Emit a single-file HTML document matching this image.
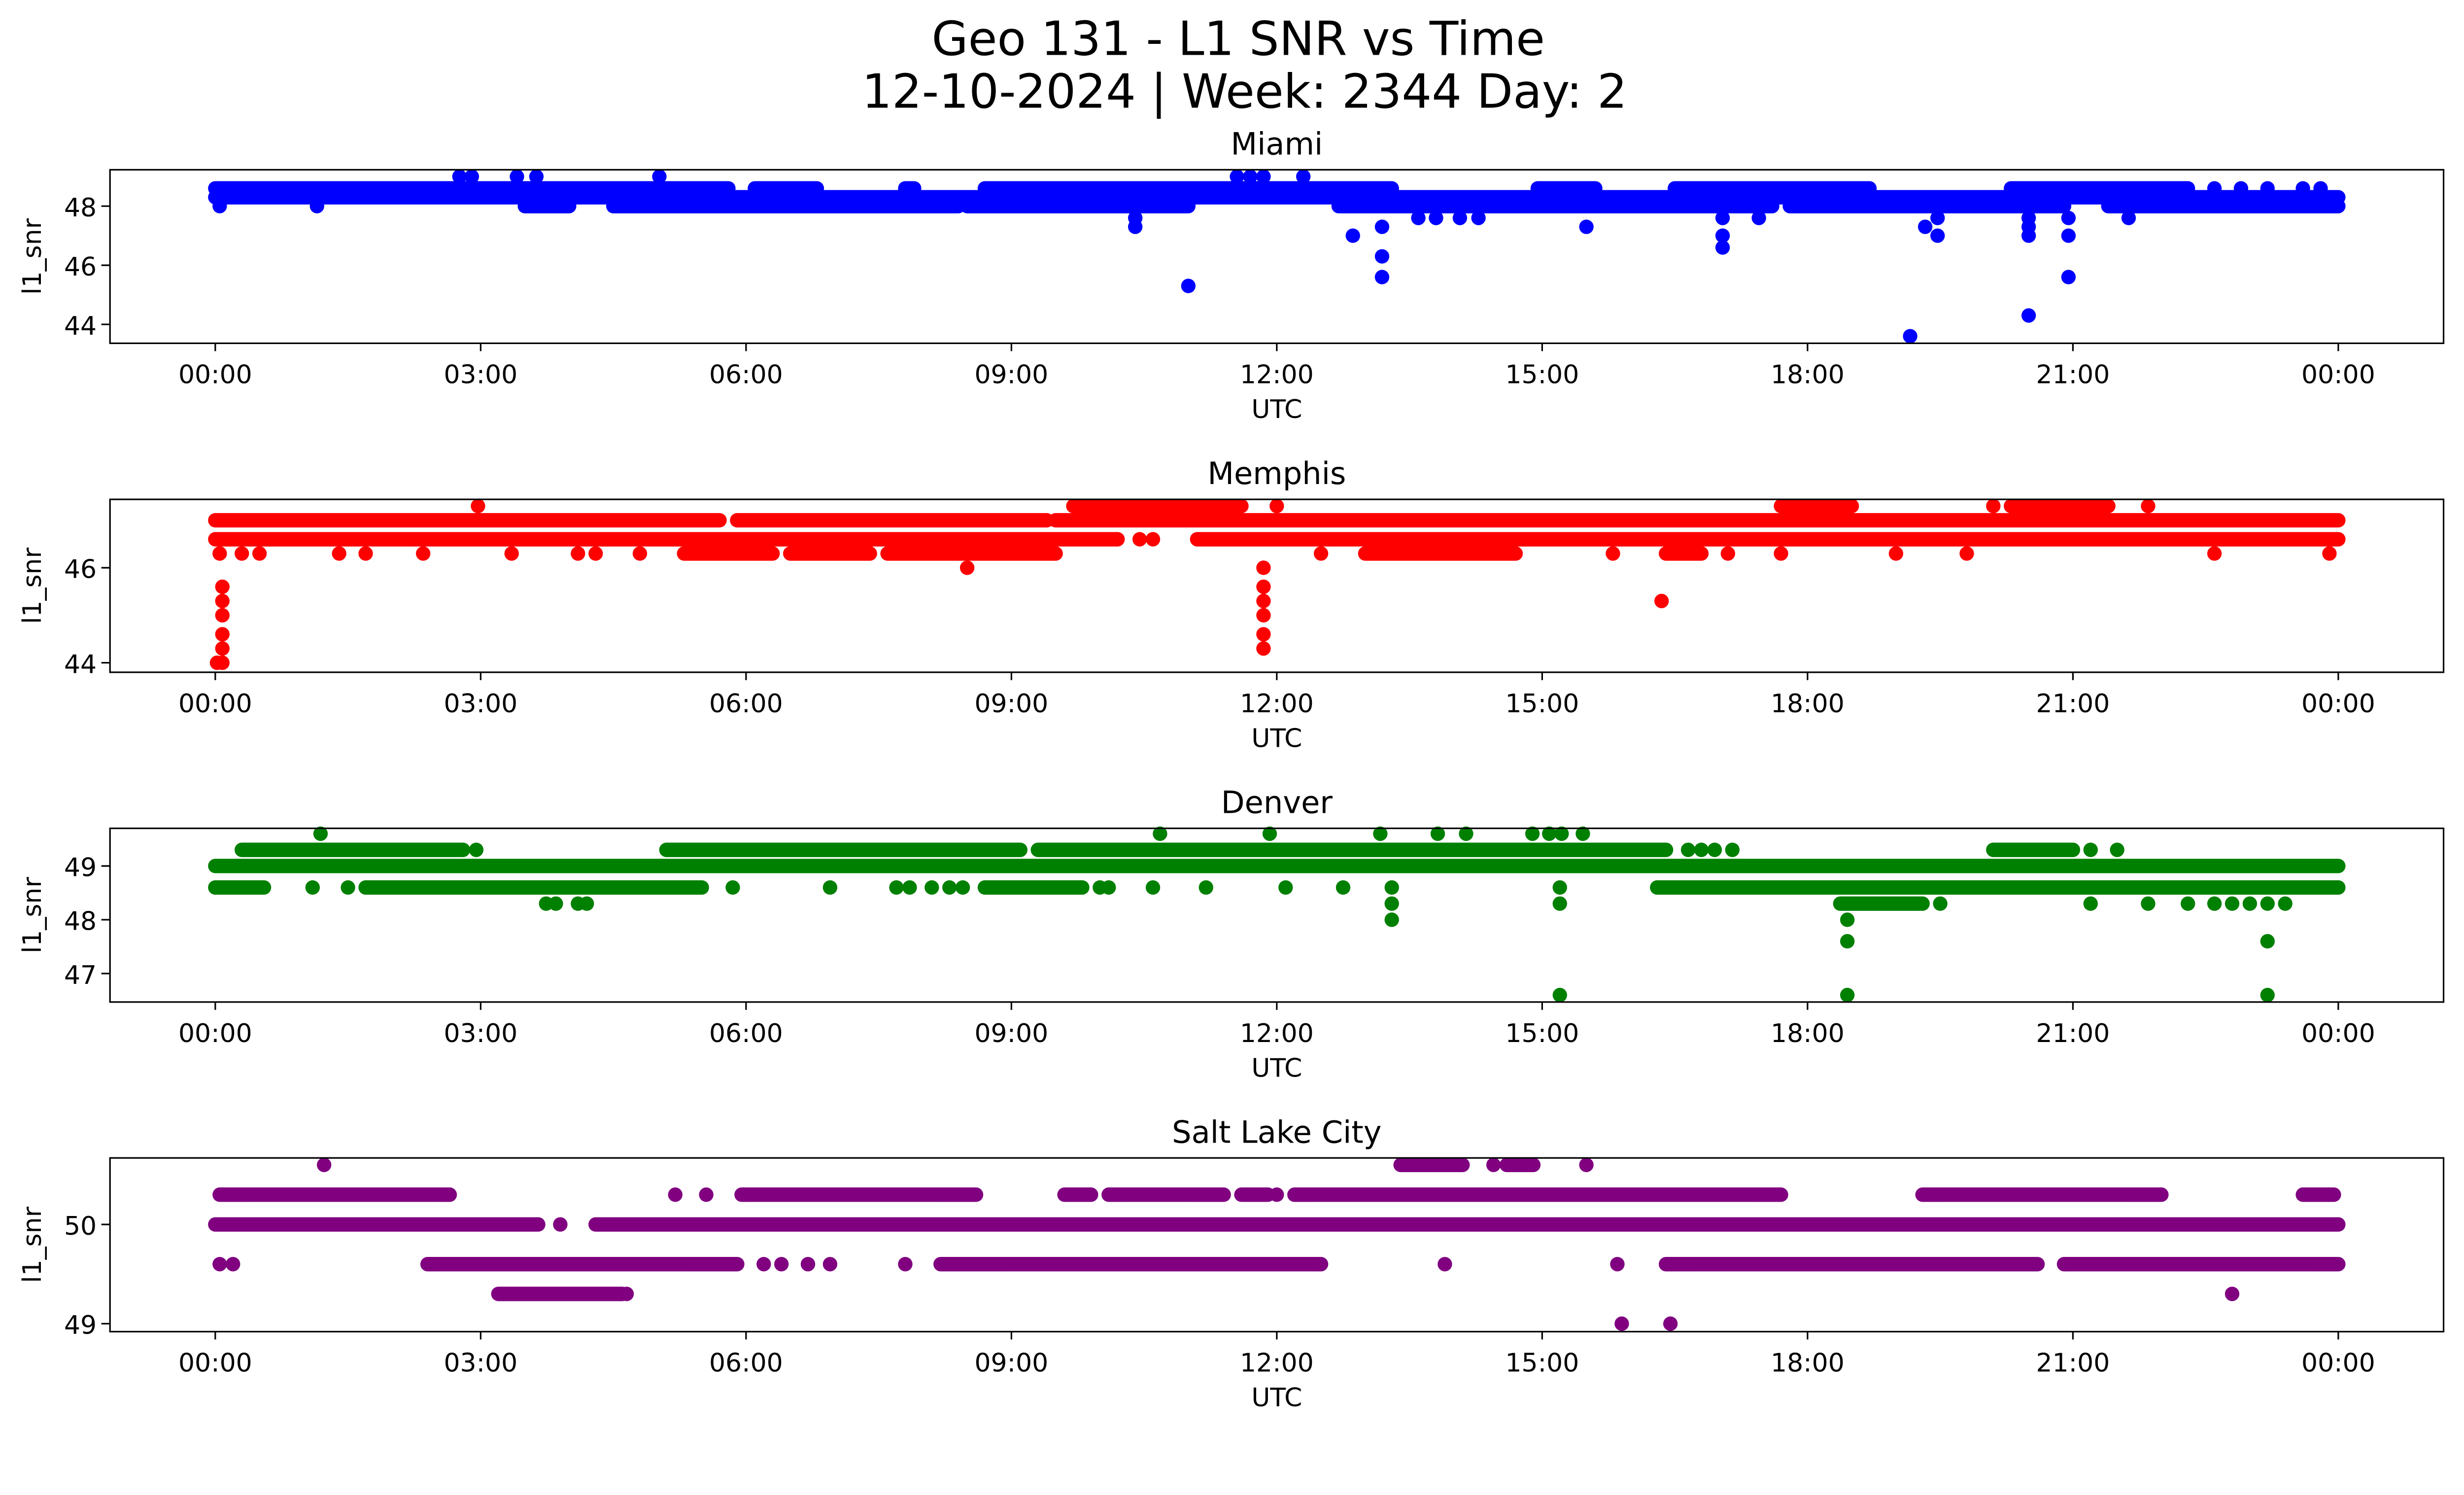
<!DOCTYPE html>
<html><head><meta charset="utf-8"><style>
html,body{margin:0;padding:0;background:#fff;overflow:hidden}
svg{display:block;width:100vw;height:calc(100vw * 3033 / 5226)}
text{font-family:"DejaVu Sans","Liberation Sans",sans-serif;fill:#000}
</style></head><body>
<svg id="chart" viewBox="0 0 1568 910" preserveAspectRatio="none" xmlns="http://www.w3.org/2000/svg">
<text x="788" y="35" font-size="30" text-anchor="middle">Geo 131 - L1 SNR vs Time</text>
<text x="792" y="68.5" font-size="30" text-anchor="middle">12-10-2024 | Week: 2344 Day: 2</text>
</svg>
<script>
// x ticks (hours)
const xTickHours = [0,3,6,9,12,15,18,21,24];
const xTickLabels = ["00:00","03:00","06:00","09:00","12:00","15:00","18:00","21:00","00:00"];

// Miami
const miamiTicks = [44,46,48];
const miamiRuns = [[0,5.8,48.6],[6.1,6.8,48.6],[7.8,7.9,48.6],[8.7,13.3,48.6],[14.95,15.6,48.6],[16.5,18.7,48.6],[20.3,22.3,48.6],
 [0,24,48.3],
 [3.5,4.0,48.0],[4.5,8.4,48.0],[8.5,11.0,48.0],[12.7,17.6,48.0],[17.8,20.9,48.0],[21.4,24,48.0]];
const miamiPoints = [[22.6,48.6],[22.9,48.6],[23.2,48.6],[23.6,48.6],[23.8,48.6],
 [2.76,49.0],[2.9,49.0],[3.41,49.0],[3.63,49.0],[5.02,49.0],[11.55,49.0],[11.7,49.0],[11.85,49.0],[12.3,49.0],
 [0.05,48.0],[1.15,48.0],
 [10.4,47.6],[10.4,47.3],[11.0,45.3],[12.86,47.0],[13.19,47.3],[13.19,46.3],[13.19,45.6],
 [13.6,47.6],[13.8,47.6],[14.07,47.6],[14.28,47.6],[15.5,47.3],[17.04,47.6],[17.04,47.0],[17.04,46.6],[17.45,47.6],
 [19.16,43.6],[19.33,47.3],[19.47,47.6],[19.47,47.0],[20.5,47.6],[20.5,47.3],[20.5,47.0],[20.5,44.3],
 [20.95,47.6],[20.95,47.0],[20.95,45.6],[21.63,47.6]];

// Memphis
const memphisTicks = [44,46];
const memphisRuns = [[9.7,11.6,47.3],[17.7,18.5,47.3],[20.3,21.4,47.3],
 [0,5.7,47.0],[5.9,9.4,47.0],[9.5,24,47.0],
 [0,10.2,46.6],[11.1,24,46.6],
 [5.3,6.3,46.3],[6.5,7.4,46.3],[7.6,9.5,46.3],[13.0,14.7,46.3],[16.4,16.8,46.3]];
const memphisPoints = [[2.97,47.3],[12.0,47.3],[20.1,47.3],[21.85,47.3],[10.45,46.6],[10.6,46.6],
 [0.05,46.3],[0.3,46.3],[0.5,46.3],[1.4,46.3],[1.7,46.3],[2.35,46.3],[3.35,46.3],[4.1,46.3],[4.3,46.3],[4.8,46.3],
 [12.5,46.3],[15.8,46.3],[17.1,46.3],[17.7,46.3],[19.0,46.3],[19.8,46.3],[22.6,46.3],[23.9,46.3],
 [8.5,46.0],[11.85,46.0],
 [0.08,45.6],[0.08,45.3],[0.08,45.0],[0.08,44.6],[0.08,44.3],[0.08,44.0],[0.02,44.0],
 [11.85,45.6],[11.85,45.3],[11.85,45.0],[11.85,44.6],[11.85,44.3],[16.35,45.3]];

// Denver
const denverTicks = [47,48,49];
const denverRuns = [[0.3,2.8,49.3],[5.1,9.1,49.3],[9.3,16.4,49.3],[20.1,21.0,49.3],
 [0,24,49.0],
 [0,0.55,48.6],[1.7,5.5,48.6],[8.7,9.8,48.6],[16.3,24,48.6],
 [18.37,19.3,48.3]];
const denverPoints = [[1.19,49.6],[10.68,49.6],[11.92,49.6],[13.17,49.6],[13.82,49.6],[14.14,49.6],[14.89,49.6],[15.08,49.6],[15.22,49.6],[15.46,49.6],
 [2.95,49.3],[16.65,49.3],[16.8,49.3],[16.95,49.3],[17.15,49.3],[21.2,49.3],[21.5,49.3],
 [1.1,48.6],[1.5,48.6],[5.85,48.6],[6.95,48.6],[7.7,48.6],[7.85,48.6],[8.1,48.6],[8.3,48.6],[8.45,48.6],
 [10.0,48.6],[10.1,48.6],[10.6,48.6],[11.2,48.6],[12.1,48.6],[12.75,48.6],[13.3,48.6],[15.2,48.6],
 [3.74,48.3],[3.85,48.3],[4.1,48.3],[4.2,48.3],[13.3,48.3],[15.2,48.3],[19.5,48.3],[21.2,48.3],[21.85,48.3],
 [22.3,48.3],[22.6,48.3],[22.8,48.3],[23.0,48.3],[23.2,48.3],[23.4,48.3],
 [13.3,48.0],[18.45,48.0],[18.45,47.6],[23.2,47.6],[15.2,46.6],[18.45,46.6],[23.2,46.6]];

// Salt Lake City
const slcTicks = [49,50];
const slcRuns = [[13.4,14.1,50.6],[14.6,14.9,50.6],
 [0.05,2.65,50.3],[5.95,8.6,50.3],[9.6,9.9,50.3],[10.1,11.4,50.3],[11.6,11.9,50.3],[12.2,17.7,50.3],[19.3,22.0,50.3],[23.6,23.95,50.3],
 [0,3.65,50.0],[4.3,24,50.0],
 [2.4,5.9,49.6],[8.2,12.5,49.6],[16.4,20.6,49.6],[20.9,24,49.6],
 [3.2,4.6,49.3]];
const slcPoints = [[1.23,50.6],[14.45,50.6],[15.5,50.6],[5.2,50.3],[5.55,50.3],[12.0,50.3],[3.9,50.0],
 [0.05,49.6],[0.2,49.6],[6.2,49.6],[6.4,49.6],[6.7,49.6],[6.95,49.6],[7.8,49.6],[13.9,49.6],[15.85,49.6],
 [4.65,49.3],[22.8,49.3],[15.9,49.0],[16.45,49.0]];

const NS = "http://www.w3.org/2000/svg";
const svg = document.getElementById('chart');
const X0 = 70, X1 = 1555, H0 = 137, H24 = 1488, R = 4.6, FS = 16.3;
function xScale(h){ return H0 + (H24 - H0) * h / 24; }
function mk(tag, attrs){ const e = document.createElementNS(NS, tag); for (const k in attrs) e.setAttribute(k, attrs[k]); svg.appendChild(e); return e; }

function panel(key, title, color, top, bottom, vmin, vmax, ticks, runs, points){
  const yScale = v => bottom - (v - vmin) / (vmax - vmin) * (bottom - top);
  const bg = mk('rect', {x:X0, y:top, width:X1-X0, height:bottom-top, fill:'#fff'});
  
  
  runs.forEach(r => {
    const x1 = xScale(r[0]), x2 = xScale(r[1]), y = yScale(r[2]);
    const e = mk('rect', {x:x1 - R, y:y - R, width:x2 - x1 + 2*R, height:2*R, rx:R, ry:R, fill:color});
    
    
  });
  points.forEach(p => {
    const e = mk('circle', {cx:xScale(p[0]), cy:yScale(p[1]), r:R, fill:color});
    
    
  });
  const fr = mk('rect', {x:X0, y:top, width:X1-X0, height:bottom-top, fill:'none', stroke:'#000', 'stroke-width':1});
  
  
  xTickHours.forEach((h, i) => {
    const x = xScale(h);
    const t = mk('line', {x1:x, x2:x, y1:bottom, y2:bottom + 5, stroke:'#000', 'stroke-width':1});
    
    
    const l = mk('text', {x:x, y:bottom + 25.4, 'font-size':FS, 'text-anchor':'middle'});
    l.textContent = xTickLabels[i];
    
    
  });
  ticks.forEach(v => {
    const y = yScale(v);
    const t = mk('line', {x1:X0 - 5.5, x2:X0, y1:y, y2:y, stroke:'#000', 'stroke-width':1});
    
    
    const l = mk('text', {x:X0 - 8.5, y:y + 6.5, 'font-size':FS, 'text-anchor':'end'});
    l.textContent = String(v);
    
    
  });
  const xt = mk('text', {x:(X0 + X1) / 2, y:bottom + 47.5, 'font-size':FS, 'text-anchor':'middle'});
  xt.textContent = 'UTC';
  
  
  const cy = (top + bottom) / 2;
  const yt = mk('text', {x:26, y:cy, 'font-size':FS, 'text-anchor':'middle', transform:'rotate(-90 26 ' + cy + ')'});
  yt.textContent = 'l1_snr';
  
  
  const tt = mk('text', {x:(X0 + X1) / 2, y:top - 9.7, 'font-size':19.5, 'text-anchor':'middle'});
  tt.textContent = title;
  
  
}

panel('miami', 'Miami', '#0000ff', 108, 218.4, 43.36, 49.23, miamiTicks, miamiRuns, miamiPoints);
panel('memphis', 'Memphis', '#ff0000', 317.7, 427.7, 43.8, 47.44, memphisTicks, memphisRuns, memphisPoints);
panel('denver', 'Denver', '#008000', 527, 637.5, 46.47, 49.7, denverTicks, denverRuns, denverPoints);
panel('slc', 'Salt Lake City', '#800080', 736.7, 847.2, 48.92, 50.67, slcTicks, slcRuns, slcPoints);
</script>
</body></html>
